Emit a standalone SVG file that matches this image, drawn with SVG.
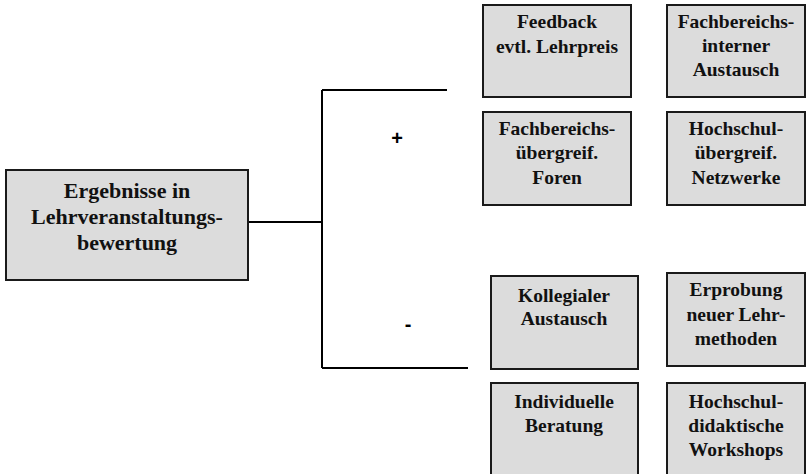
<svg xmlns="http://www.w3.org/2000/svg" width="807" height="474" viewBox="0 0 807 474">
<style>
.box{fill:#dcdcdc;stroke:#1a1a1a;stroke-width:2}
.t{font-family:"Liberation Serif","Times New Roman",serif;font-weight:bold;font-size:19.5px;text-anchor:middle;fill:#111}
.tl{font-size:22px}
.c{fill:none;stroke:#000;stroke-width:2}
.s{font-family:"Liberation Sans",Arial,sans-serif;font-weight:bold;font-size:20px;text-anchor:middle;fill:#000}
</style>
<rect width="807" height="474" fill="#fff"/>
<g id="connectors">
<path class="c" d="M248 222H322M322 90V368M322 90H447M322 368H468"/>
<text class="s" x="397" y="145">+</text>
<text class="s" x="408" y="331">-</text>
</g>
<g id="root">
<rect class="box" x="6" y="170" width="242" height="110"/>
<text class="t tl" x="127" y="198">Ergebnisse in</text>
<text class="t tl" x="127" y="224">Lehrveranstaltungs-</text>
<text class="t tl" x="127" y="250">bewertung</text>
</g>
<g id="feedback">
<rect class="box" x="483" y="5" width="148" height="92"/>
<text class="t" x="557" y="28">Feedback</text>
<text class="t" x="557" y="53">evtl. Lehrpreis</text>
</g>
<g id="fb-intern">
<rect class="box" x="667" y="5" width="138" height="92"/>
<text class="t" x="736" y="28">Fachbereichs-</text>
<text class="t" x="736" y="52">interner</text>
<text class="t" x="736" y="76">Austausch</text>
</g>
<g id="fb-uebergreif">
<rect class="box" x="483" y="112" width="148" height="93"/>
<text class="t" x="557" y="135">Fachbereichs-</text>
<text class="t" x="557" y="159">übergreif.</text>
<text class="t" x="557" y="184">Foren</text>
</g>
<g id="hs-uebergreif">
<rect class="box" x="667" y="112" width="138" height="93"/>
<text class="t" x="736" y="135">Hochschul-</text>
<text class="t" x="736" y="159">übergreif.</text>
<text class="t" x="736" y="184">Netzwerke</text>
</g>
<g id="kollegial">
<rect class="box" x="491" y="276" width="147" height="93"/>
<text class="t" x="564" y="302">Kollegialer</text>
<text class="t" x="564" y="325">Austausch</text>
</g>
<g id="erprobung">
<rect class="box" x="667" y="273" width="138" height="93"/>
<text class="t" x="736" y="296">Erprobung</text>
<text class="t" x="736" y="321">neuer Lehr-</text>
<text class="t" x="736" y="345">methoden</text>
</g>
<g id="beratung">
<rect class="box" x="491" y="383" width="147" height="100"/>
<text class="t" x="564" y="408">Individuelle</text>
<text class="t" x="564" y="432">Beratung</text>
</g>
<g id="workshops">
<rect class="box" x="667" y="383" width="138" height="100"/>
<text class="t" x="736" y="408">Hochschul-</text>
<text class="t" x="736" y="432">didaktische</text>
<text class="t" x="736" y="456">Workshops</text>
</g>
</svg>
